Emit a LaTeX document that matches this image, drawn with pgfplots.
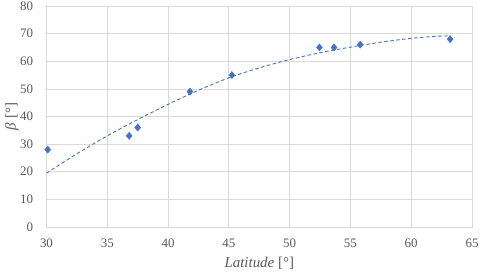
\documentclass[border=0pt]{standalone}
\usepackage{pgfplots}
\pgfplotsset{compat=1.18}
\usepackage{fontspec}
\setmainfont{Liberation Serif}
\definecolor{ptblue}{HTML}{4472C4}
\definecolor{gridgray}{HTML}{D9D9D9}
\definecolor{txtgray}{HTML}{595959}
\begin{document}
\begin{tikzpicture}
\useasboundingbox (-46.5bp,-46bp) rectangle (433.5bp,227bp);
\begin{axis}[
  scale only axis,
  width=425.5bp, height=221bp,
  xmin=30, xmax=65, ymin=0, ymax=80,
  xtick={30,35,...,65}, ytick={0,10,...,80},
  grid=major,
  major grid style={gridgray, line width=0.75bp},
  axis line style={gridgray, line width=0.75bp},
  major tick length=0pt,
  tick label style={txtgray, font=\fontsize{13}{15}\selectfont},
  /pgf/number format/assume math mode=true,
  xticklabel style={yshift=-8bp},
  yticklabel style={xshift=-10bp},
  xlabel={\textit{Latitude} [°]},
  ylabel={\textit{β} [°]},
  label style={txtgray, font=\fontsize{15}{17}\selectfont},
  xlabel style={at={(axis description cs:0.5,-0.163)}, anchor=center},
  ylabel style={at={(axis description cs:-0.081,0.5)}, anchor=center},
]
\addplot[ptblue, line width=0.9bp, dash pattern=on 3.5bp off 2.5bp, smooth, no marks] coordinates {
(30,19.5) (32.5,26.5) (35,33.0) (37.5,38.9) (40,44.4) (42.5,49.5) (45,54.0) (47.5,57.6) (50,60.6) (52.5,63.1) (55,65.1) (57.5,66.9) (60,68.3) (62,69.0) (63.2,69.2)
};
\addplot[only marks, mark=diamond*, mark size=3.6bp, ptblue, mark options={fill=ptblue, xscale=1.1}] coordinates {
(30.1,28) (36.8,33) (37.5,36) (41.8,49) (45.25,55) (52.45,65) (53.65,65) (55.8,66) (63.2,68)
};
\end{axis}
\end{tikzpicture}
\end{document}
